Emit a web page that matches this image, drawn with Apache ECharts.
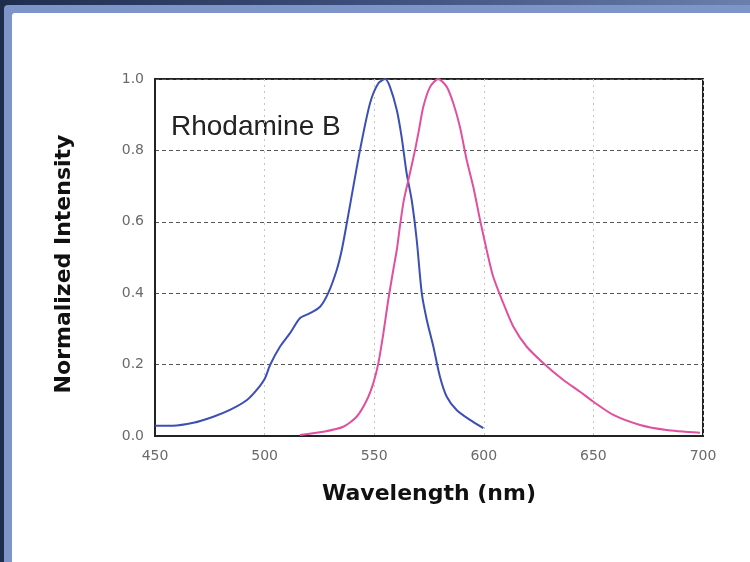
<!DOCTYPE html>
<html>
<head>
<meta charset="utf-8">
<script src="https://cdn.jsdelivr.net/npm/echarts@6/dist/echarts.min.js"></script>
<style>
  html, body { margin: 0; padding: 0; background: #ffffff; }
  #chart { width: 750px; height: 562px; }
</style>
</head>
<body>
<div id="chart"></div>
<script>
// Rhodamine B absorption (blue) and emission (pink) spectra
const absWavelength = [450, 458, 467.5, 476.6, 484.2, 491.8, 496.4, 500.2, 502.5, 507, 511.6, 516.1, 520.7, 525.3, 529, 532.9, 535.2, 537.5, 543.5, 548.1, 551.9, 555, 557.2, 560.3, 562.5, 564.8, 567.1, 569.4, 571.7, 574, 577, 580, 583.1, 587.6, 593.7, 599.8];
const absValues     = [0.029, 0.029, 0.037, 0.054, 0.073, 0.10, 0.129, 0.162, 0.199, 0.25, 0.288, 0.33, 0.344, 0.362, 0.40, 0.465, 0.521, 0.596, 0.80, 0.932, 0.988, 1.0, 0.978, 0.913, 0.838, 0.736, 0.661, 0.549, 0.40, 0.325, 0.25, 0.166, 0.11, 0.073, 0.045, 0.022];

const emWavelength = [516.1, 526.8, 535.9, 542, 546.6, 549.6, 551.9, 554.2, 556.4, 558.7, 560.3, 561.8, 563.5, 566.3, 568.6, 570.5, 572.4, 575.5, 579.2, 583.1, 586.1, 589.1, 592.2, 595.2, 598.3, 601.3, 604.3, 608.9, 613.5, 619.6, 627.2, 636.3, 643.9, 650, 659.1, 671.3, 683.4, 698.6];
const emValues     = [0.003, 0.012, 0.026, 0.054, 0.10, 0.148, 0.204, 0.288, 0.381, 0.465, 0.521, 0.59, 0.66, 0.736, 0.80, 0.86, 0.922, 0.978, 1.0, 0.978, 0.932, 0.866, 0.773, 0.698, 0.605, 0.521, 0.446, 0.372, 0.306, 0.25, 0.204, 0.157, 0.124, 0.096, 0.059, 0.031, 0.017, 0.009];

const xTicks = [450, 500, 550, 600, 650, 700];
const yTicks = [0.0, 0.2, 0.4, 0.6, 0.8, 1.0];

const pairs = (xs, ys) => xs.map((x, i) => [x, ys[i]]);

const chart = echarts.init(document.getElementById('chart'), null, { renderer: 'canvas' });

chart.setOption({
  animation: false,
  backgroundColor: '#ffffff',
  graphic: [
    // window frame behind the white panel
    { type: 'rect', z: -10, shape: { x: 0, y: 0, width: 750, height: 562 },
      style: { fill: new echarts.graphic.LinearGradient(0, 0, 1, 0, [
        { offset: 0, color: '#1f2d4d' }, { offset: 0.5, color: '#3d4f7c' }, { offset: 1, color: '#6a7fab' }]) } },
    { type: 'rect', z: -9, shape: { x: 4, y: 5, width: 746, height: 557, r: [4, 0, 0, 0] },
      style: { fill: '#7d95c8' } },
    { type: 'rect', z: -8, shape: { x: 12, y: 13, width: 738, height: 549, r: [3, 0, 0, 0] },
      style: { fill: '#ffffff' } },
    { type: 'text', left: 171, top: 113,
      style: { text: 'Rhodamine B', font: '28px "Liberation Sans", Arial, sans-serif', fill: '#222222' } },
    { type: 'text', x: 64, y: 264, rotation: Math.PI / 2,
      style: { text: 'Normalized Intensity', font: 'bold 22px "DejaVu Sans", sans-serif', fill: '#111111',
        align: 'center', verticalAlign: 'middle' } }
  ],
  grid: {
    left: 155, right: 47, top: 79, bottom: 126,
    show: true, borderColor: '#222222', borderWidth: 2, backgroundColor: 'transparent'
  },
  xAxis: {
    type: 'value', min: xTicks[0], max: xTicks[xTicks.length - 1], interval: 50,
    name: 'Wavelength (nm)', nameLocation: 'middle', nameGap: 47,
    nameTextStyle: { fontFamily: 'DejaVu Sans', fontWeight: 'bold', fontSize: 22, color: '#111111' },
    axisLine: { show: true, lineStyle: { color: '#222222', width: 2 } },
    axisTick: { show: false },
    axisLabel: { fontFamily: 'DejaVu Sans', fontSize: 14, color: '#6a6a6a', margin: 13 },
    splitLine: { show: true, lineStyle: { color: '#c4c4c4', type: [2, 4], width: 1 } }
  },
  yAxis: {
    type: 'value', min: 0, max: 1, interval: 0.2,
    axisLine: { show: true, lineStyle: { color: '#222222', width: 2 } },
    axisTick: { show: false },
    axisLabel: { fontFamily: 'DejaVu Sans', fontSize: 14, color: '#6a6a6a', margin: 11,
      formatter: v => v.toFixed(1) },
    splitLine: { show: true, lineStyle: { color: '#555555', type: [4, 3], width: 1 } }
  },
  series: [
    { name: 'Absorption', type: 'line', data: pairs(absWavelength, absValues),
      showSymbol: false, smooth: 0.25, lineStyle: { color: '#3c4fb5', width: 2 }, z: 3 },
    { name: 'Emission', type: 'line', data: pairs(emWavelength, emValues),
      showSymbol: false, smooth: 0.25, lineStyle: { color: '#e0509e', width: 2 }, z: 3 }
  ]
});
</script>
</body>
</html>
